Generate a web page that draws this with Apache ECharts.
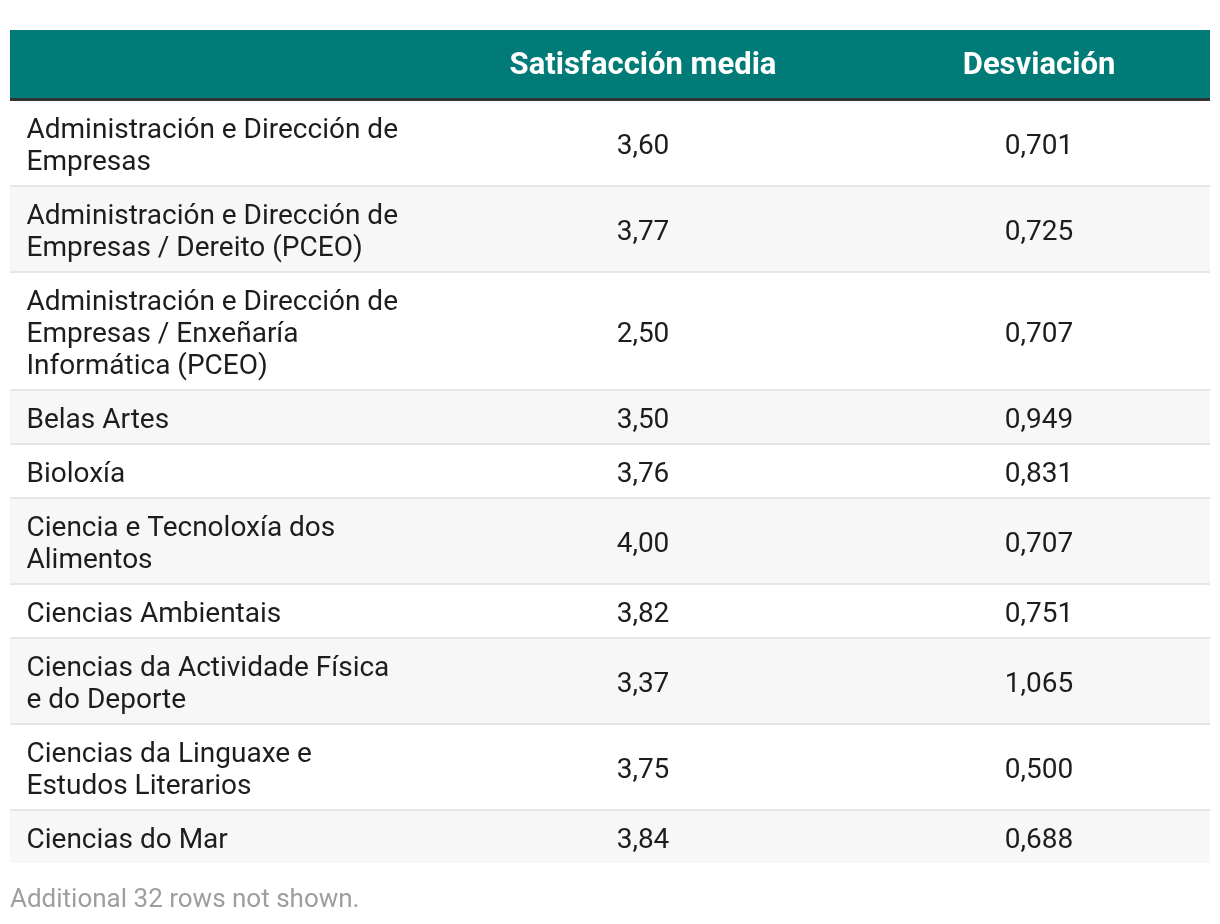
<!DOCTYPE html>
<html>
<head>
<meta charset="utf-8">
<script src="https://cdn.jsdelivr.net/npm/echarts@6/dist/echarts.min.js"></script>
<style>
html,body{margin:0;padding:0;background:#ffffff;}
#chart{width:1220px;height:924px;}
</style>
</head>
<body>
<div id="chart"></div>
<script>
// ---- data ----
const categories = [
  'Administración e Dirección de Empresas',
  'Administración e Dirección de Empresas / Dereito (PCEO)',
  'Administración e Dirección de Empresas / Enxeñaría Informática (PCEO)',
  'Belas Artes',
  'Bioloxía',
  'Ciencia e Tecnoloxía dos Alimentos',
  'Ciencias Ambientais',
  'Ciencias da Actividade Física e do Deporte',
  'Ciencias da Linguaxe e Estudos Literarios',
  'Ciencias do Mar'
];
const satisfaction = [3.60, 3.77, 2.50, 3.50, 3.76, 4.00, 3.82, 3.37, 3.75, 3.84];
const deviation = [0.701, 0.725, 0.707, 0.949, 0.831, 0.707, 0.751, 1.065, 0.500, 0.688];
const columnHeaders = ['', 'Satisfacción media', 'Desviación'];
const footnote = 'Additional 32 rows not shown.';

// ---- style / layout constants ----
const FONT = 'Roboto, "Noto Sans", sans-serif';
const BODY_SIZE = 28, LINE_H = 32, PAD = 10, BORDER = 2;
const HEAD_SIZE = 31;
const HEADER_H = 68, HEADER_BORDER = 3;
const WRAP_W = 376;
const TABLE_W = 1200;
const COL_X = [16.5, 633, 1029];
const TEXT_DY = 4;
const TEAL = '#007b77';

function fmt(v, d) { return v.toFixed(d).replace('.', ','); }

const measureCtx = document.createElement('canvas').getContext('2d');
measureCtx.font = BODY_SIZE + 'px ' + FONT;
function wrap(text) {
  const words = text.split(' ');
  const lines = [];
  let cur = '';
  words.forEach(w => {
    const test = cur ? cur + ' ' + w : w;
    if (cur && measureCtx.measureText(test).width > WRAP_W) {
      lines.push(cur);
      cur = w;
    } else {
      cur = test;
    }
  });
  if (cur) lines.push(cur);
  return lines;
}
const wrapped = categories.map(wrap);

const rowData = [];
let yCursor = HEADER_H + HEADER_BORDER;
wrapped.forEach((lines, i) => {
  const h = PAD * 2 + LINE_H * lines.length;
  const b = i < wrapped.length - 1 ? BORDER : 0;
  rowData.push([yCursor, yCursor + h, i, b]);
  yCursor += h + b;
});
const TOTAL = yCursor;

function renderHeader(params, api) {
  const y0 = api.value(0), y1 = api.value(1), bw = api.value(2);
  const tl = api.coord([0, y0]);
  const br = api.coord([TABLE_W, y1]);
  const bb = api.coord([TABLE_W, y1 + bw]);
  const children = [
    {type: 'rect', shape: {x: tl[0], y: tl[1], width: br[0] - tl[0], height: br[1] - tl[1]}, style: {fill: TEAL}},
    {type: 'rect', shape: {x: tl[0], y: br[1], width: br[0] - tl[0], height: bb[1] - br[1]}, style: {fill: '#333333'}}
  ];
  columnHeaders.forEach((h, k) => {
    if (!h) return;
    const p = api.coord([COL_X[k], (y0 + y1) / 2]);
    children.push({type: 'text', style: {text: h, x: p[0], y: p[1] + 2, fill: '#ffffff',
      fontSize: HEAD_SIZE, fontWeight: 'bold', fontFamily: FONT, align: 'center', verticalAlign: 'middle'}});
  });
  return {type: 'group', children};
}

function renderRow(params, api) {
  const i = params.dataIndex;
  const y0 = api.value(0), y1 = api.value(1), bw = api.value(3);
  const tl = api.coord([0, y0]);
  const br = api.coord([TABLE_W, y1]);
  const children = [
    {type: 'rect', shape: {x: tl[0], y: tl[1], width: br[0] - tl[0], height: br[1] - tl[1]},
      style: {fill: i % 2 === 1 ? '#f7f7f7' : '#ffffff'}}
  ];
  if (bw > 0) {
    const bb = api.coord([TABLE_W, y1 + bw]);
    children.push({type: 'rect', shape: {x: tl[0], y: br[1], width: br[0] - tl[0], height: bb[1] - br[1]},
      style: {fill: '#e6e6e6'}});
  }
  wrapped[i].forEach((ln, k) => {
    const p = api.coord([COL_X[0], y0 + PAD + LINE_H * k + LINE_H / 2]);
    children.push({type: 'text', style: {text: ln, x: p[0], y: p[1] + TEXT_DY, fill: '#1d1d1d',
      fontSize: BODY_SIZE, fontFamily: FONT, align: 'left', verticalAlign: 'middle'}});
  });
  const vals = [fmt(satisfaction[i], 2), fmt(deviation[i], 3)];
  vals.forEach((v, k) => {
    const p = api.coord([COL_X[k + 1], (y0 + y1) / 2]);
    children.push({type: 'text', style: {text: v, x: p[0], y: p[1] + TEXT_DY, fill: '#1d1d1d',
      fontSize: BODY_SIZE, fontFamily: FONT, align: 'center', verticalAlign: 'middle'}});
  });
  return {type: 'group', children};
}

const chart = echarts.init(document.getElementById('chart'), null, {renderer: 'canvas'});
chart.setOption({
  animation: false,
  backgroundColor: '#ffffff',
  grid: {left: 10, top: 30, width: TABLE_W, height: TOTAL, containLabel: false},
  xAxis: {type: 'value', min: 0, max: TABLE_W, show: false},
  yAxis: {type: 'value', min: 0, max: TOTAL, inverse: true, show: false},
  graphic: [{
    type: 'text', left: 10, top: 30 + TOTAL + 24,
    style: {text: footnote, fill: '#9e9e9e', fontSize: 26, fontFamily: FONT}
  }],
  series: [
    {type: 'custom', coordinateSystem: 'cartesian2d', renderItem: renderHeader, clip: false,
      data: [[0, HEADER_H, HEADER_BORDER]], silent: true},
    {type: 'custom', coordinateSystem: 'cartesian2d', renderItem: renderRow, clip: false,
      data: rowData, silent: true}
  ]
});
</script>
</body>
</html>
